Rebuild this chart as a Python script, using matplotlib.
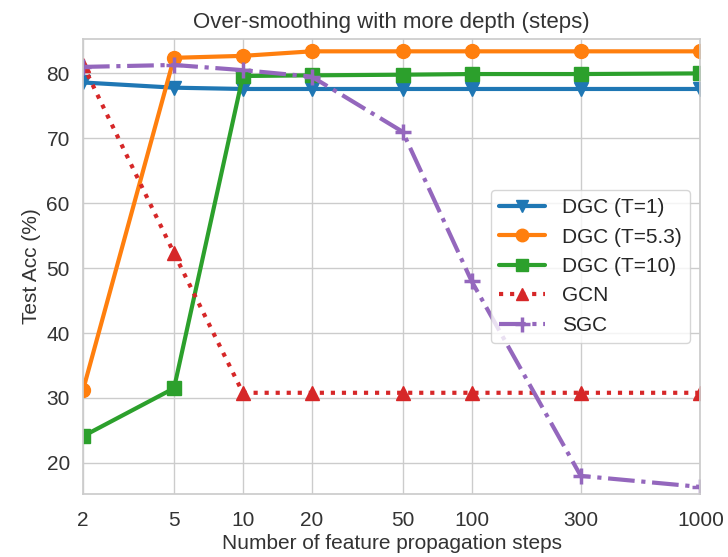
import matplotlib
matplotlib.use("Agg")
import matplotlib.pyplot as plt
import seaborn as sns

steps = [2, 5, 10, 20, 50, 100, 300, 1000]
dgc_t1 = [78.6, 77.8, 77.6, 77.6, 77.6, 77.6, 77.6, 77.6]
dgc_t53 = [31.2, 82.4, 82.7, 83.4, 83.4, 83.4, 83.4, 83.4]
dgc_t10 = [24.1, 31.5, 79.6, 79.7, 79.8, 79.9, 79.9, 80.0]
gcn = [81.3, 52.3, 30.8, 30.8, 30.8, 30.8, 30.8, 30.8]
sgc = [81.0, 81.3, 80.5, 79.5, 71.0, 48.0, 18.0, 16.3]
tick_labels = ["2", "5", "10", "20", "50", "100", "300", "1000"]

sns.set_theme(style="whitegrid")
plt.rcParams['font.family'] = ['Liberation Sans', 'DejaVu Sans']

fig = plt.figure(figsize=(7.28, 5.57), dpi=100)
ax = fig.add_axes([0.114, 0.113, 0.848, 0.817])

lw = 3
ax.plot(steps, dgc_t1, color='#1f77b4', marker='v', markersize=10, lw=lw, label='DGC (T=1)')
ax.plot(steps, dgc_t53, color='#ff7f0e', marker='o', markersize=10, lw=lw, label='DGC (T=5.3)')
ax.plot(steps, dgc_t10, color='#2ca02c', marker='s', markersize=10, lw=lw, label='DGC (T=10)')
ax.plot(steps, gcn, color='#d62728', marker='^', markersize=10, lw=lw, linestyle=':', label='GCN')
ax.plot(steps, sgc, color='#9467bd', marker='+', markersize=12, markeredgewidth=2.5, lw=lw, linestyle='-.', label='SGC')

ax.set_xscale('log')
ax.set_xlim(2, 1000)
ax.set_ylim(15.2, 85.3)
ax.set_xticks(steps)
ax.set_xticklabels(tick_labels)
ax.minorticks_off()
ax.set_yticks([20, 30, 40, 50, 60, 70, 80])
ax.tick_params(labelsize=15, colors='#333333')
ax.tick_params(axis='x', pad=6)
ax.set_xlabel('Number of feature propagation steps', fontsize=15, color='#333333', labelpad=3)
ax.set_ylabel('Test Acc (%)', fontsize=15, color='#333333')
ax.set_title('Over-smoothing with more depth (steps)', fontsize=16, color='#333333', pad=8)
ax.legend(loc='center right', fontsize=15, handlelength=2.2, markerscale=0.9)

fig.savefig('out.png', dpi=100)
